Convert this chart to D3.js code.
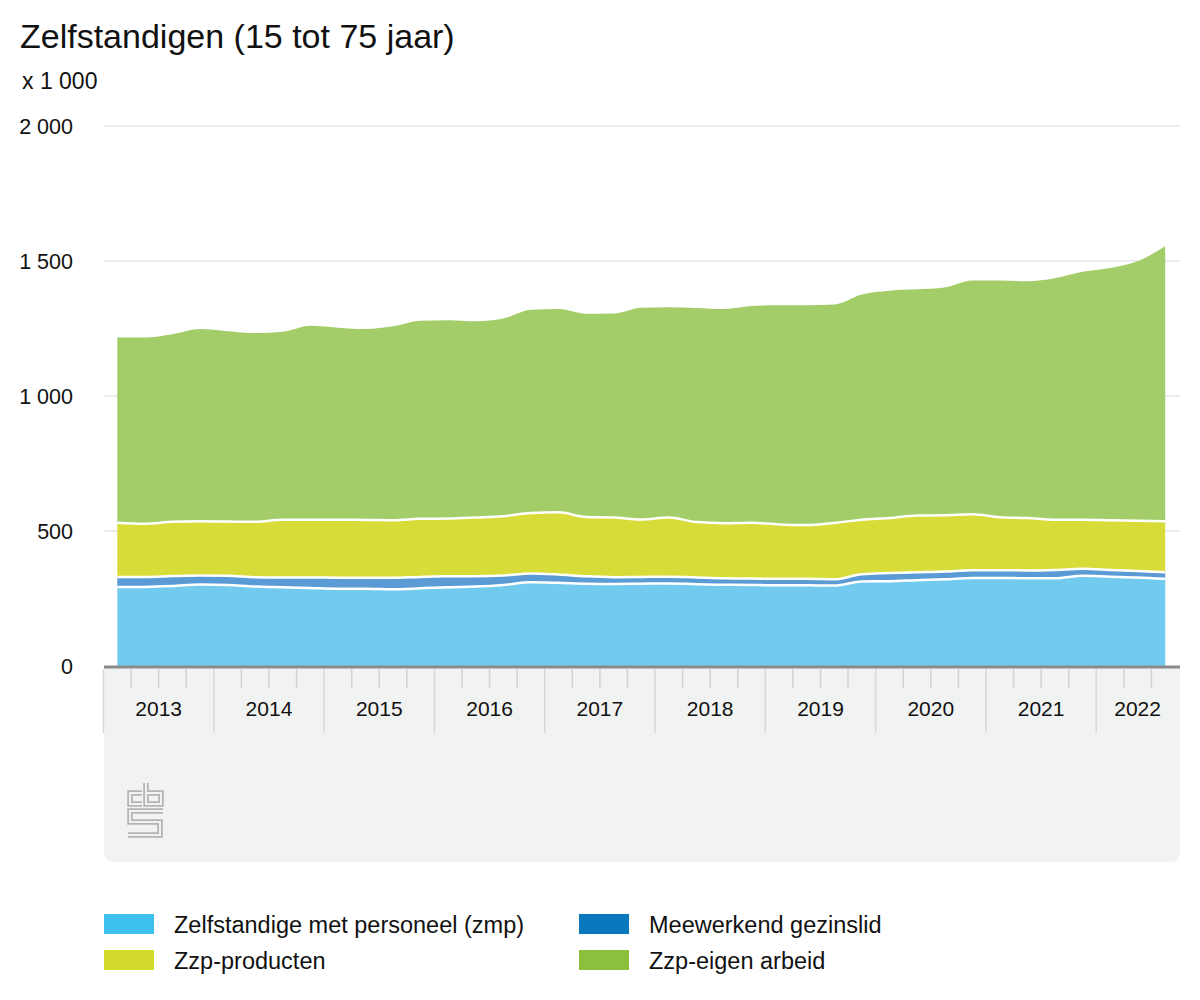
<!DOCTYPE html>
<html>
<head>
<meta charset="utf-8">
<title>Zelfstandigen (15 tot 75 jaar)</title>
<style>
  body { margin: 0; background: #fff; }
  svg { display: block; font-family: "Liberation Sans", Arial, sans-serif; }
</style>
</head>
<body>
<script src="https://cdn.jsdelivr.net/npm/d3@7/dist/d3.min.js"></script>
<script>
// kwartalen, 2013K1 t/m 2022K3
var periods = [
  "2013K1", "2013K2", "2013K3", "2013K4",
  "2014K1", "2014K2", "2014K3", "2014K4",
  "2015K1", "2015K2", "2015K3", "2015K4",
  "2016K1", "2016K2", "2016K3", "2016K4",
  "2017K1", "2017K2", "2017K3", "2017K4",
  "2018K1", "2018K2", "2018K3", "2018K4",
  "2019K1", "2019K2", "2019K3", "2019K4",
  "2020K1", "2020K2", "2020K3", "2020K4",
  "2021K1", "2021K2", "2021K3", "2021K4",
  "2022K1", "2022K2", "2022K3"
];
var years = ["2013", "2014", "2015", "2016", "2017", "2018", "2019", "2020", "2021", "2022"];

// x 1 000
var zmp = [293, 293, 296, 302, 300, 294, 292, 289, 286, 286, 284, 288, 292, 294, 300, 310, 308, 305, 304, 305,
           306, 303, 301, 300, 299, 299, 298, 313, 314, 318, 321, 326, 326, 325, 325, 334, 331, 328, 323];
var meewerkend = [37, 37, 37, 33, 34, 35, 36, 39, 41, 41, 43, 42, 40, 38, 35, 33, 31, 27, 25, 25,
                  25, 25, 24, 24, 24, 24, 23, 27, 30, 29, 29, 29, 29, 29, 31, 26, 25, 24, 24];
var zzpProducten = [201, 197, 201, 201, 201, 205, 214, 214, 215, 214, 213, 215, 214, 218, 220, 224, 230, 220, 221, 213,
                    219, 205, 204, 207, 201, 199, 209, 202, 204, 210, 208, 207, 196, 194, 186, 182, 184, 186, 189];
var zzpEigen = [686, 690, 695, 712, 705, 699, 696, 718, 711, 707, 718, 734, 735, 727, 732, 752, 753, 753, 756, 784,
                779, 793, 793, 802, 812, 814, 809, 834, 842, 838, 844, 866, 877, 877, 894, 918, 934, 961, 1019];

var keys = ["zmp", "meewerkend", "zzpProducten", "zzpEigen"];
var labels = ["Zelfstandige met personeel (zmp)", "Meewerkend gezinslid", "Zzp-producten", "Zzp-eigen arbeid"];
var areaColors = ["#72cbee", "#5b9bd5", "#d7dc39", "#a3cd69"];
var legendColors = ["#3ec0ec", "#0b78bd", "#d3da2b", "#8bc03f"];
var yTicks = [0, 500, 1000, 1500, 2000];

var width = 1200, height = 1000;
var plotLeft = 104, plotRight = 1180, plotTop = 126, plotBottom = 666;

var svg = d3.select("body").append("svg")
  .attr("width", width)
  .attr("height", height);

var x = d3.scaleBand().domain(periods).range([103.5, 1179]);
var y = d3.scaleLinear().domain([0, 2000]).range([plotBottom, plotTop]);
var color = d3.scaleOrdinal().domain(keys).range(areaColors);

var fmt = d3.formatLocale({decimal: ",", thousands: " ", grouping: [3], currency: ["", ""]}).format(",");

// title
svg.append("text")
  .attr("x", 20).attr("y", 48)
  .style("font-size", "34px").style("fill", "#111")
  .text("Zelfstandigen (15 tot 75 jaar)");

svg.append("text")
  .attr("x", 22).attr("y", 89)
  .style("font-size", "23px").style("fill", "#111")
  .text("x 1 000");

// gridlines + y labels
svg.append("g").selectAll("line")
  .data(yTicks.filter(d => d > 0))
  .enter().append("line")
  .attr("x1", plotLeft).attr("x2", plotRight)
  .attr("y1", d => y(d)).attr("y2", d => y(d))
  .style("stroke", "#d9d9d9").style("stroke-width", 1);

svg.append("g").selectAll("text")
  .data(yTicks)
  .enter().append("text")
  .attr("x", 73).attr("y", d => y(d))
  .attr("dy", "0.35em")
  .style("text-anchor", "end")
  .style("font-size", "21.5px").style("fill", "#111")
  .text(d => fmt(d));

// stacked areas
var rows = periods.map(function(p, i) {
  return {period: p, zmp: zmp[i], meewerkend: meewerkend[i], zzpProducten: zzpProducten[i], zzpEigen: zzpEigen[i]};
});
var layers = d3.stack().keys(keys)(rows);

var cx = d => x(d.data.period) + x.bandwidth() / 2;

var area = d3.area()
  .x(cx)
  .y0(d => y(d[0]))
  .y1(d => y(d[1]))
  .curve(d3.curveMonotoneX);

var edge = d3.line()
  .x(cx)
  .y(d => y(d[1]))
  .curve(d3.curveMonotoneX);

svg.append("g").selectAll("path")
  .data(layers)
  .enter().append("path")
  .attr("d", area)
  .style("fill", d => color(d.key));

// white separators between layers
svg.append("g").selectAll("path")
  .data(layers.slice(0, 3))
  .enter().append("path")
  .attr("d", edge)
  .style("fill", "none")
  .style("stroke", "#fff")
  .style("stroke-width", 2.5);

// bottom panel
svg.append("path")
  .attr("d", "M" + plotLeft + "," + (plotBottom + 2) + "H" + plotRight + "V852Q" + plotRight + ",862 " + (plotRight - 10) + ",862H" +
        (plotLeft + 10) + "Q" + plotLeft + ",862 " + plotLeft + ",852Z")
  .style("fill", "#f1f2f2");

svg.append("line")
  .attr("x1", plotLeft).attr("x2", plotRight)
  .attr("y1", plotBottom + 1).attr("y2", plotBottom + 1)
  .style("stroke", "#8a8a8a").style("stroke-width", 3);

// quarter ticks
svg.append("g").selectAll("line")
  .data(periods.filter(p => p.slice(4) != "K1"))
  .enter().append("line")
  .attr("x1", d => x(d)).attr("x2", d => x(d))
  .attr("y1", plotBottom + 3).attr("y2", 688)
  .style("stroke", "#d2d2d2").style("stroke-width", 1.5);

// year dividers and labels
var yearPeriods = years.map(yr => periods.filter(p => p.slice(0, 4) == yr));

svg.append("g").selectAll("line")
  .data(yearPeriods)
  .enter().append("line")
  .attr("x1", d => x(d[0])).attr("x2", d => x(d[0]))
  .attr("y1", plotBottom + 3).attr("y2", 733)
  .style("stroke", "#d8d8d8").style("stroke-width", 1.5);

svg.append("g").selectAll("text")
  .data(yearPeriods)
  .enter().append("text")
  .attr("x", d => (x(d[0]) + x(d[d.length - 1]) + x.bandwidth()) / 2)
  .attr("y", 716)
  .style("text-anchor", "middle")
  .style("font-size", "21px").style("fill", "#111")
  .text(d => d[0].slice(0, 4));

// cbs logo
var logo = svg.append("g").style("fill", "none").style("stroke-linejoin", "miter");
var logoPaths = [
  "M142,793H130V804H142",
  "M146,783V804H161V793H147",
  "M163,811H130V822H160V835H128"
];
logo.selectAll(".outer").data(logoPaths).enter().append("path")
  .attr("d", d => d).style("stroke", "#b4b4b4").style("stroke-width", 5.5);
logo.selectAll(".inner").data(logoPaths).enter().append("path")
  .attr("d", d => d).style("stroke", "#f1f2f2").style("stroke-width", 2);

// legend
var legend = svg.append("g").selectAll("g")
  .data(keys)
  .enter().append("g")
  .attr("transform", function(d, i) {
    return "translate(" + [104, 579][i % 2] + "," + [914, 950][Math.floor(i / 2)] + ")";
  });

legend.append("rect")
  .attr("width", 50).attr("height", 20)
  .style("fill", (d, i) => legendColors[i]);

legend.append("text")
  .attr("x", 70).attr("y", 19)
  .style("font-size", "23.5px").style("fill", "#111")
  .text((d, i) => labels[i]);
</script>
</body>
</html>
